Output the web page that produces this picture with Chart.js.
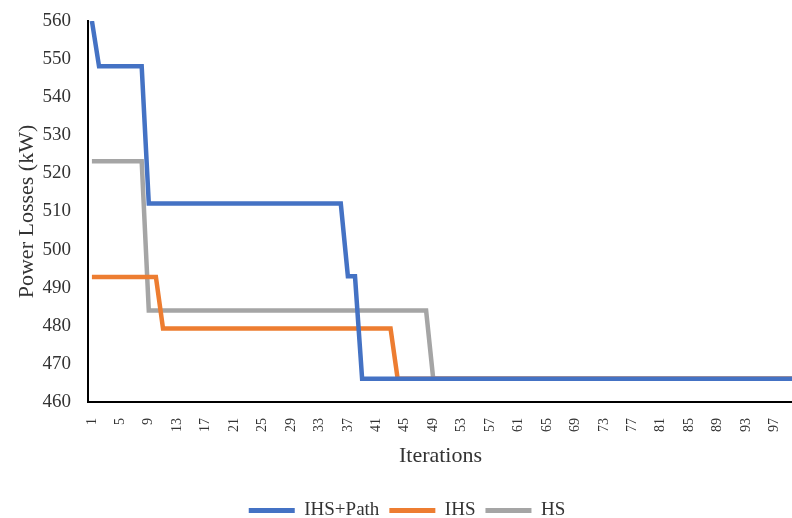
<!DOCTYPE html>
<html>
<head>
<meta charset="utf-8">
<script src="https://cdn.jsdelivr.net/npm/chart.js@4/dist/chart.umd.min.js"></script>
<style>
  body { margin: 0; background: #fff; }
  #wrap { width: 792px; height: 518px; overflow: hidden; }
</style>
</head>
<body>
<div id="wrap"><canvas id="chartContainer" width="814" height="530"></canvas></div>
<script>
const iterations = [
    1, 2, 3, 4, 5, 6, 7, 8, 9, 10, 11, 12, 13, 14, 15, 16, 17, 18, 19, 20,
    21, 22, 23, 24, 25, 26, 27, 28, 29, 30, 31, 32, 33, 34, 35, 36, 37, 38, 39, 40,
    41, 42, 43, 44, 45, 46, 47, 48, 49, 50, 51, 52, 53, 54, 55, 56, 57, 58, 59, 60,
    61, 62, 63, 64, 65, 66, 67, 68, 69, 70, 71, 72, 73, 74, 75, 76, 77, 78, 79, 80,
    81, 82, 83, 84, 85, 86, 87, 88, 89, 90, 91, 92, 93, 94, 95, 96, 97, 98, 99, 100
];

const xTickLabels = [1, 5, 9, 13, 17, 21, 25, 29, 33, 37, 41, 45, 49, 53, 57, 61, 65, 69, 73, 77, 81, 85, 89, 93, 97];
const yTickLabels = [460, 470, 480, 490, 500, 510, 520, 530, 540, 550, 560];

const ihsPath = [
    560, 548.1, 548.1, 548.1, 548.1, 548.1, 548.1, 548.1, 512.1, 512.1, 512.1, 512.1, 512.1, 512.1, 512.1, 512.1, 512.1, 512.1, 512.1, 512.1,
    512.1, 512.1, 512.1, 512.1, 512.1, 512.1, 512.1, 512.1, 512.1, 512.1, 512.1, 512.1, 512.1, 512.1, 512.1, 512.1, 493.0, 493.0, 466.1, 466.1,
    466.1, 466.1, 466.1, 466.1, 466.1, 466.1, 466.1, 466.1, 466.1, 466.1, 466.1, 466.1, 466.1, 466.1, 466.1, 466.1, 466.1, 466.1, 466.1, 466.1,
    466.1, 466.1, 466.1, 466.1, 466.1, 466.1, 466.1, 466.1, 466.1, 466.1, 466.1, 466.1, 466.1, 466.1, 466.1, 466.1, 466.1, 466.1, 466.1, 466.1,
    466.1, 466.1, 466.1, 466.1, 466.1, 466.1, 466.1, 466.1, 466.1, 466.1, 466.1, 466.1, 466.1, 466.1, 466.1, 466.1, 466.1, 466.1, 466.1, 466.1
];

const ihs = [
    492.8, 492.8, 492.8, 492.8, 492.8, 492.8, 492.8, 492.8, 492.8, 492.8, 479.3, 479.3, 479.3, 479.3, 479.3, 479.3, 479.3, 479.3, 479.3, 479.3,
    479.3, 479.3, 479.3, 479.3, 479.3, 479.3, 479.3, 479.3, 479.3, 479.3, 479.3, 479.3, 479.3, 479.3, 479.3, 479.3, 479.3, 479.3, 479.3, 479.3,
    479.3, 479.3, 479.3, 466.1, 466.1, 466.1, 466.1, 466.1, 466.1, 466.1, 466.1, 466.1, 466.1, 466.1, 466.1, 466.1, 466.1, 466.1, 466.1, 466.1,
    466.1, 466.1, 466.1, 466.1, 466.1, 466.1, 466.1, 466.1, 466.1, 466.1, 466.1, 466.1, 466.1, 466.1, 466.1, 466.1, 466.1, 466.1, 466.1, 466.1,
    466.1, 466.1, 466.1, 466.1, 466.1, 466.1, 466.1, 466.1, 466.1, 466.1, 466.1, 466.1, 466.1, 466.1, 466.1, 466.1, 466.1, 466.1, 466.1, 466.1
];

const hs = [
    523.2, 523.2, 523.2, 523.2, 523.2, 523.2, 523.2, 523.2, 484.0, 484.0, 484.0, 484.0, 484.0, 484.0, 484.0, 484.0, 484.0, 484.0, 484.0, 484.0,
    484.0, 484.0, 484.0, 484.0, 484.0, 484.0, 484.0, 484.0, 484.0, 484.0, 484.0, 484.0, 484.0, 484.0, 484.0, 484.0, 484.0, 484.0, 484.0, 484.0,
    484.0, 484.0, 484.0, 484.0, 484.0, 484.0, 484.0, 484.0, 466.1, 466.1, 466.1, 466.1, 466.1, 466.1, 466.1, 466.1, 466.1, 466.1, 466.1, 466.1,
    466.1, 466.1, 466.1, 466.1, 466.1, 466.1, 466.1, 466.1, 466.1, 466.1, 466.1, 466.1, 466.1, 466.1, 466.1, 466.1, 466.1, 466.1, 466.1, 466.1,
    466.1, 466.1, 466.1, 466.1, 466.1, 466.1, 466.1, 466.1, 466.1, 466.1, 466.1, 466.1, 466.1, 466.1, 466.1, 466.1, 466.1, 466.1, 466.1, 466.1
];

const serif = "'Liberation Serif', 'Times New Roman', serif";
const textColor = '#333';

// pair each value with its iteration number for the linear x axis
function lineSet(label, values, color) {
    return {
        label: label,
        data: values.map((v, i) => ({ x: iterations[i], y: v })),
        borderColor: color,
        backgroundColor: color,
        borderWidth: 4.5,
        borderJoinStyle: 'miter',
        pointRadius: 0,
        tension: 0,
        fill: false
    };
}

function displayChart() {
    const chartContainer = document.getElementById('chartContainer');

    const chart = new Chart(chartContainer, {
        type: 'line',
        data: {
            datasets: [
                lineSet('IHS+Path', ihsPath, '#4472C4'),
                lineSet('IHS', ihs, '#ED7D31'),
                lineSet('HS', hs, '#A5A5A5')
            ]
        },
        options: {
            responsive: false,
            animation: false,
            layout: { padding: { left: 21, right: 21, top: 21, bottom: 0 } },
            plugins: {
                tooltip: { enabled: false },
                legend: {
                    position: 'bottom',
                    labels: {
                        font: { family: serif, size: 19 },
                        color: textColor,
                        boxWidth: 46,
                        boxHeight: 5,
                        padding: 10,
                        generateLabels: c => Chart.defaults.plugins.legend.labels.generateLabels(c)
                            .map(item => ({ ...item, lineWidth: 0 }))
                    }
                }
            },
            scales: {
                x: {
                    type: 'linear',
                    min: 0.45,
                    max: 99.6,
                    grid: { display: false, drawTicks: false },
                    border: { color: '#000', width: 2 },
                    afterBuildTicks: s => { s.ticks = xTickLabels.map(v => ({ value: v })); },
                    afterFit: s => { s.height = 89; s.paddingLeft = 0; s.paddingRight = 0; },
                    ticks: {
                        autoSkip: false,
                        minRotation: 90,
                        maxRotation: 90,
                        padding: 16,
                        color: textColor,
                        font: { family: serif, size: 14 }
                    },
                    title: {
                        display: true,
                        text: 'Iterations',
                        color: textColor,
                        font: { family: serif, size: 22 },
                        padding: { top: 8, bottom: 22 }
                    }
                },
                y: {
                    min: yTickLabels[0],
                    max: yTickLabels[yTickLabels.length - 1],
                    grid: { display: false, drawTicks: false },
                    border: { color: '#000', width: 2 },
                    afterFit: s => { s.width = 67; s.paddingTop = 0; s.paddingBottom = 0; },
                    ticks: {
                        stepSize: 10,
                        padding: 17,
                        color: textColor,
                        font: { family: serif, size: 19 }
                    },
                    title: {
                        display: true,
                        text: 'Power Losses (kW)',
                        color: textColor,
                        font: { family: serif, size: 22 },
                        padding: { top: -7, bottom: 2 }
                    }
                }
            }
        }
    });
    return chart;
}

window.onload = function() {
    displayChart();
};
</script>
</body>
</html>
